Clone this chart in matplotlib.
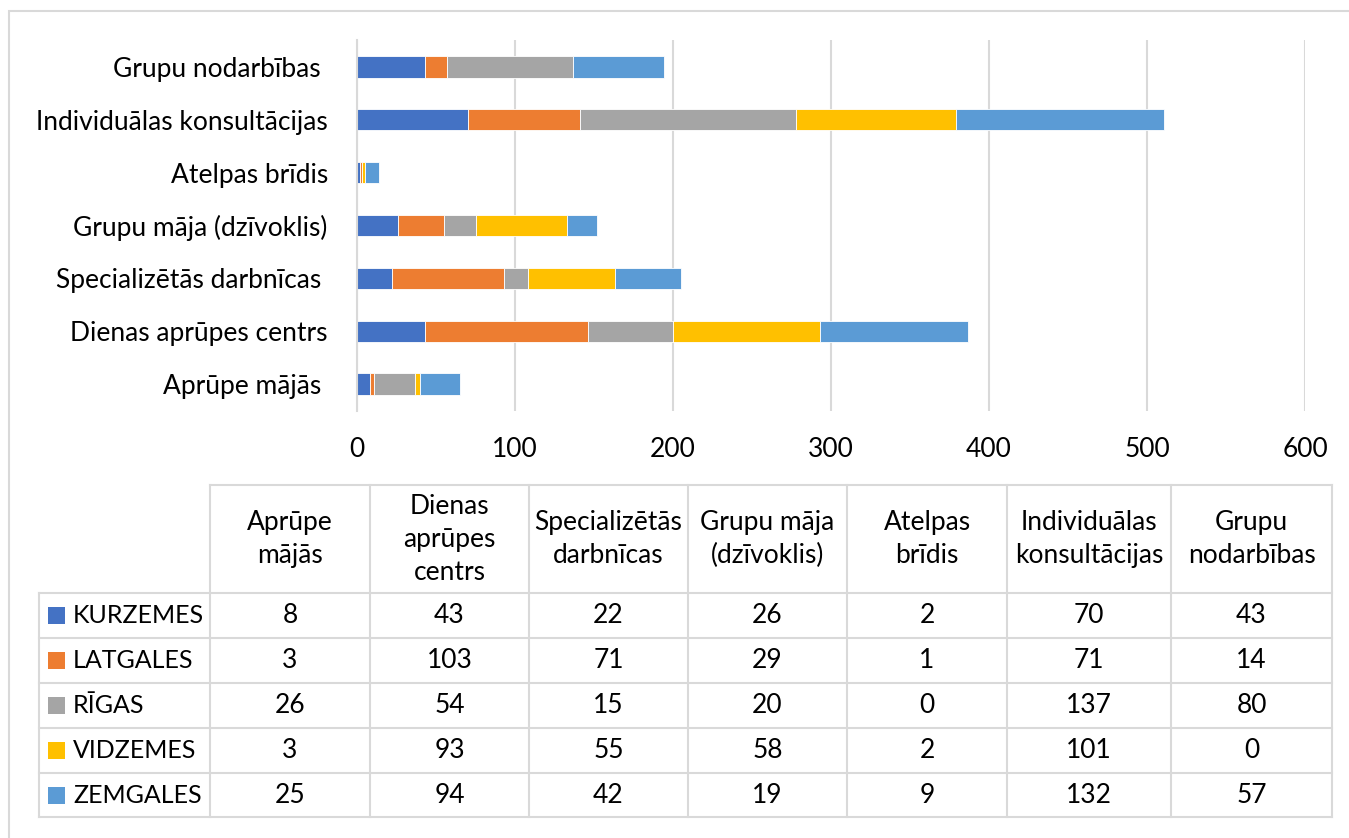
import matplotlib
matplotlib.use("Agg")
import matplotlib.pyplot as plt
import numpy as np
from matplotlib.patches import Rectangle
from matplotlib.lines import Line2D

plt.rcParams['font.family'] = ['Lato', 'DejaVu Sans']

# categories (bottom to top in the chart; same order as table columns)
categories = ["Aprūpe mājās ", "Dienas aprūpes centrs", "Specializētās darbnīcas ",
              "Grupu māja (dzīvoklis)", "Atelpas brīdis", "Individuālas konsultācijas",
              "Grupu nodarbības "]
table_headers = ["Aprūpe\nmājās", "Dienas\naprūpes\ncentrs", "Specializētās\ndarbnīcas",
                 "Grupu māja\n(dzīvoklis)", "Atelpas\nbrīdis", "Individuālas\nkonsultācijas",
                 "Grupu\nnodarbības"]
series_names = ["KURZEMES", "LATGALES", "RĪGAS", "VIDZEMES", "ZEMGALES"]
kurzemes = [8, 43, 22, 26, 2, 70, 43]
latgales = [3, 103, 71, 29, 1, 71, 14]
rigas = [26, 54, 15, 20, 0, 137, 80]
vidzemes = [3, 93, 55, 58, 2, 101, 0]
zemgales = [25, 94, 42, 19, 9, 132, 57]
series_values = [kurzemes, latgales, rigas, vidzemes, zemgales]
colors = ["#4472C4", "#ED7D31", "#A5A5A5", "#FFC000", "#5B9BD5"]
x_ticks = [0, 100, 200, 300, 400, 500, 600]

W, H = 1349, 838
fig = plt.figure(figsize=(W / 100, H / 100), dpi=100)

def fx(px):
    return px / W

def fy(py):
    return 1 - py / H

grid_c = "#D9D9D9"
fs = 19

# outer frame
fig.add_artist(Rectangle((fx(9), fy(850)), fx(1400 - 9), (850 - 11) / H,
                         transform=fig.transFigure, fill=False, edgecolor=grid_c, lw=1.5))

ax = fig.add_axes([fx(357), fy(410.5), fx(1305) - fx(357), fy(40.5) - fy(410.5)])
y = np.arange(len(categories))
left = np.zeros(len(categories))
for name, vals, c in zip(series_names, series_values, colors):
    ax.barh(y, vals, left=left, height=0.4, color=c, edgecolor="white", linewidth=0.6, zorder=3)
    left += np.array(vals)
ax.set_xlim(0, 600)
ax.set_ylim(-0.5, len(categories) - 0.5)
ax.set_yticks(y)
ax.set_yticklabels(categories, fontsize=fs)
ax.set_xticks(x_ticks)
ax.set_xticklabels([str(t) for t in x_ticks], fontsize=fs)
ax.tick_params(axis="x", length=0, pad=19)
ax.tick_params(axis="y", length=0, pad=21)
for s in ["top", "right", "bottom"]:
    ax.spines[s].set_visible(False)
ax.spines["left"].set_color(grid_c)
ax.spines["left"].set_linewidth(1.5)
ax.spines["left"].set_zorder(4)
ax.grid(axis="x", color=grid_c, linewidth=1.5, zorder=0)
ax.set_axisbelow(True)

# data table
col_edges = [210, 370, 529, 688, 847, 1007, 1171, 1332]
row_edges = [485, 593, 638, 683, 728, 773, 817]
label_left = 39

def hline(x0, x1, yy):
    fig.add_artist(Line2D([fx(x0), fx(x1)], [fy(yy), fy(yy)], transform=fig.transFigure,
                          color=grid_c, lw=1.5))

def vline(xx, y0, y1):
    fig.add_artist(Line2D([fx(xx), fx(xx)], [fy(y0), fy(y1)], transform=fig.transFigure,
                          color=grid_c, lw=1.5))

hline(col_edges[0], col_edges[-1], row_edges[0])
for r in row_edges[1:]:
    hline(label_left, col_edges[-1], r)
for cx in col_edges:
    vline(cx, row_edges[0], row_edges[-1])
vline(label_left, row_edges[1], row_edges[-1])

# header
hy = (row_edges[0] + row_edges[1]) / 2
for i, h in enumerate(table_headers):
    cx = (col_edges[i] + col_edges[i + 1]) / 2
    fig.text(fx(cx), fy(hy), h, ha="center", va="center", fontsize=fs, linespacing=1.4)

for r, (name, vals, c) in enumerate(zip(series_names, series_values, colors)):
    cy = (row_edges[r + 1] + row_edges[r + 2]) / 2
    fig.add_artist(Rectangle((fx(48), fy(cy + 8.5)), fx(17), 17 / H, transform=fig.transFigure,
                             facecolor=c, edgecolor="none"))
    fig.text(fx(73), fy(cy), name, ha="left", va="center", fontsize=18)
    for i, v in enumerate(vals):
        cx = (col_edges[i] + col_edges[i + 1]) / 2
        fig.text(fx(cx), fy(cy), str(v), ha="center", va="center", fontsize=fs)

fig.savefig("out.png", dpi=100)
